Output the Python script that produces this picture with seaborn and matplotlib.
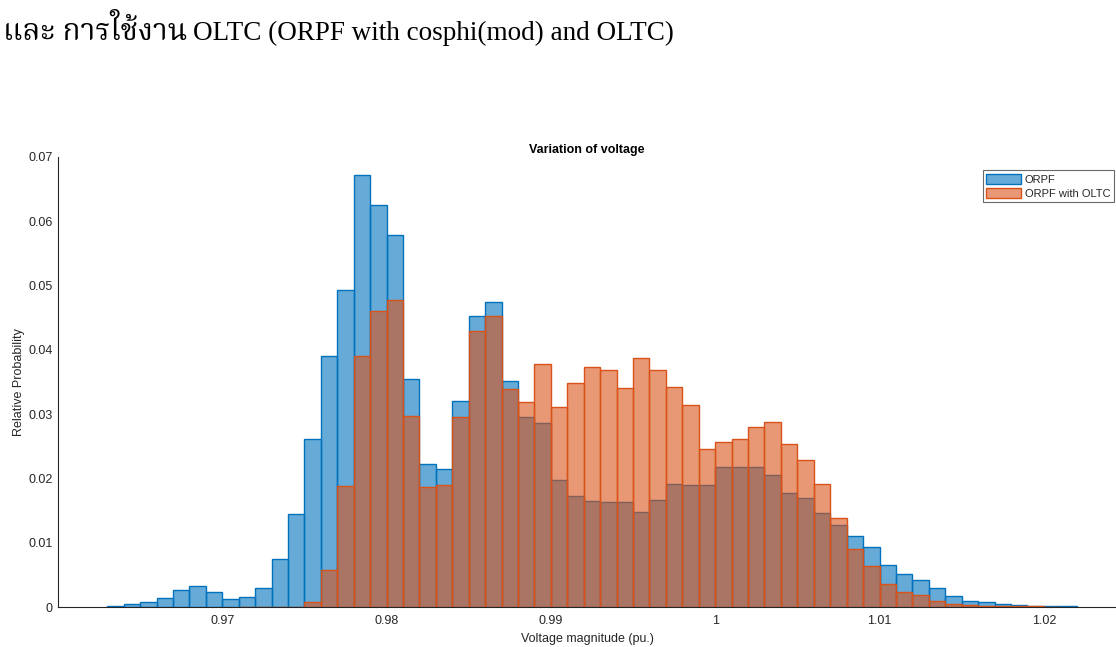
import numpy as np
import pandas as pd
import matplotlib
matplotlib.use("Agg")
import matplotlib.pyplot as plt
from matplotlib import font_manager
from matplotlib.ft2font import FT2Font
import seaborn as sns

# bin heights (relative probability), bin width 0.001
bin_w = 0.001
orpf_start = 0.963
orpf = [0.0002, 0.0005, 0.0008, 0.0014, 0.0026, 0.0032, 0.0023, 0.0012, 0.0016, 0.0029,
        0.0074, 0.0144, 0.0262, 0.0391, 0.0493, 0.0672, 0.0626, 0.0579, 0.0355, 0.0223,
        0.0214, 0.0320, 0.0453, 0.0474, 0.0352, 0.0295, 0.0286, 0.0197, 0.0173, 0.0165,
        0.0164, 0.0163, 0.0148, 0.0166, 0.0192, 0.0190, 0.0189, 0.0218, 0.0217, 0.0217,
        0.0205, 0.0178, 0.0169, 0.0146, 0.0128, 0.0110, 0.0093, 0.0066, 0.0051, 0.0042,
        0.0029, 0.0017, 0.0010, 0.0008, 0.0005, 0.0003, 0.0002, 0.0001, 0.0001]

oltc_start = 0.971
oltc = [0.0, 0.0, 0.0, 0.0, 0.0008, 0.0057, 0.0188, 0.0391, 0.0460, 0.0477,
        0.0297, 0.0186, 0.0190, 0.0295, 0.0429, 0.0453, 0.0339, 0.0319, 0.0378, 0.0311,
        0.0348, 0.0373, 0.0369, 0.0340, 0.0388, 0.0369, 0.0342, 0.0315, 0.0246, 0.0256,
        0.0262, 0.0280, 0.0288, 0.0254, 0.0228, 0.0191, 0.0138, 0.0091, 0.0064, 0.0036,
        0.0023, 0.0019, 0.0010, 0.0005, 0.0003, 0.0002, 0.0001, 0.0001, 0.0001, 0.00005]

x_ticks = [0.97, 0.98, 0.99, 1.0, 1.01, 1.02]
x_ticklabels = ["0.97", "0.98", "0.99", "1", "1.01", "1.02"]
y_ticks = [0, 0.01, 0.02, 0.03, 0.04, 0.05, 0.06, 0.07]
y_ticklabels = ["0", "0.01", "0.02", "0.03", "0.04", "0.05", "0.06", "0.07"]

heading_th = "และ การใช้งาน"
heading_en = "OLTC (ORPF with cosphi(mod) and OLTC)"

blue = "#0072BD"
orange = "#D95319"
dark = "#262626"

sns.set_style("white")
plt.rcParams["font.family"] = ["Liberation Sans", "DejaVu Sans"]

# find installed families that have Thai glyphs (serif ones first)
found = []
for path in font_manager.findSystemFonts():
    try:
        cmap = FT2Font(path).get_charmap()
        if ord("ก") in cmap and ord("ใ") in cmap:
            name = font_manager.FontProperties(fname=path).get_name()
            if name not in found:
                found.append(name)
    except Exception:
        continue
prefer = ["Noto Serif Thai", "Taviraj", "Trirong", "Maitree", "Pridi", "Sarabun",
          "Noto Sans Thai", "IBM Plex Sans Thai", "Kanit"]
thai_fams = [f for f in prefer if f in found]
thai_fams += [f for f in found if f not in thai_fams and "Unifont" not in f]
thai_fams += [f for f in found if f not in thai_fams]

def hist_frame(start, vals):
    n = len(vals)
    edges = np.round(start + bin_w * np.arange(n + 1), 4)
    df = pd.DataFrame({"v": edges[:-1] + bin_w / 2, "w": vals})
    return df, [float(e) for e in edges]

fig = plt.figure(figsize=(11.16, 6.47), dpi=100)
ax = fig.add_axes([58 / 1116, 40 / 647, 1058 / 1116, 450 / 647])

d1, e1 = hist_frame(orpf_start, orpf)
d2, e2 = hist_frame(oltc_start, oltc)
sns.histplot(data=d1, x="v", weights="w", bins=e1, stat="count", color=blue, alpha=0.6,
             edgecolor=blue, linewidth=1.0, ax=ax, label="ORPF")
sns.histplot(data=d2, x="v", weights="w", bins=e2, stat="count", color=orange, alpha=0.6,
             edgecolor=orange, linewidth=1.0, ax=ax, label="ORPF with OLTC")

ax.set_xlim(0.96, 0.96 + 1058 / 16430)
ax.set_ylim(0, 0.07)
ax.set_xticks(x_ticks)
ax.set_xticklabels(x_ticklabels)
ax.set_yticks(y_ticks)
ax.set_yticklabels(y_ticklabels)
ax.set_axisbelow(True)
ax.tick_params(direction="in", length=8, width=0.8, colors=dark, labelsize=9, pad=4)
ax.tick_params(axis="x", colors="#808080", labelcolor=dark, pad=6)
for s in ["top", "right"]:
    ax.spines[s].set_visible(False)
for s in ["left", "bottom"]:
    ax.spines[s].set_color(dark)
    ax.spines[s].set_linewidth(0.8)

ax.set_xlabel("Voltage magnitude (pu.)", fontsize=9, color=dark, labelpad=4)
ax.set_ylabel("Relative Probability", fontsize=9, color=dark, labelpad=2)
ax.set_title("Variation of voltage", fontsize=9, fontweight="bold", color="black", pad=3)

leg = ax.legend(loc="upper right", bbox_to_anchor=(1.0, 0.975), fontsize=8, frameon=True,
                fancybox=False, borderpad=0.3, handlelength=3.2, handleheight=1.1,
                handletextpad=0.3, labelspacing=0.25, borderaxespad=0.2)
leg.get_frame().set_edgecolor("#444444")
leg.get_frame().set_linewidth(0.8)

# page heading above the figure, cut at the left edge as in the source page
base_y = (647 - 40.5) / 647
fig.text(193 / 1116, base_y, heading_en, fontsize=19.5, family=["Liberation Serif"],
         color="black", ha="left", va="baseline")
fig.text(187 / 1116, base_y, heading_th, fontsize=21.5,
         family=thai_fams + ["Liberation Serif"],
         color="black", ha="right", va="baseline")

fig.savefig("out.png", dpi=100)
